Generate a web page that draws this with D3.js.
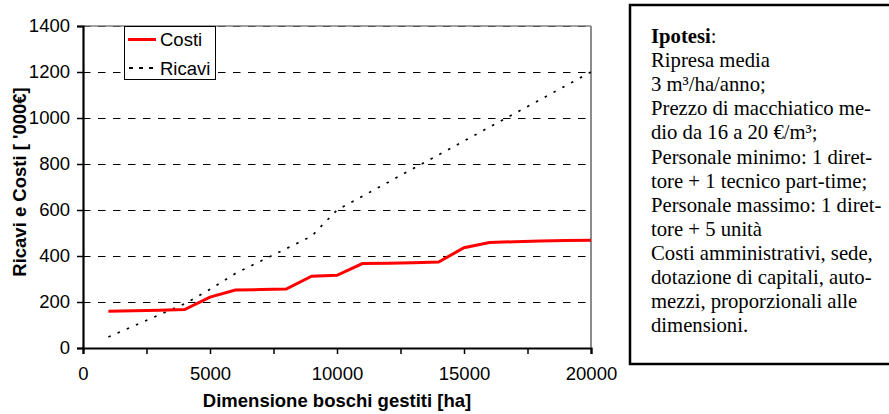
<!DOCTYPE html>
<html><head><meta charset="utf-8">
<script src="https://cdn.jsdelivr.net/npm/d3@7/dist/d3.min.js"></script>
<style>body{margin:0;background:#fff}svg{display:block}</style>
</head><body>
<svg id="c" width="889" height="414"></svg>
<script>
// ---- data ----
const hectares = [1000,2000,3000,4000,5000,6000,7000,8000,9000,10000,11000,12000,13000,14000,15000,16000,17000,18000,19000,20000];
const costi    = [160,162,164,167,221,252,254,256,312,316,367,369,371,374,436,459,462,465,467,469];
const ricavi   = [48,96,144,192,255,324,378,432,486,600,660,720,780,840,900,960,1020,1080,1140,1200];
const yTicks = [0,200,400,600,800,1000,1200,1400];
const xTicksMajor = [0,5000,10000,15000,20000];
const xTicksMinor = [0,2500,5000,7500,10000,12500,15000,17500,20000];
const seriesNames = ["Costi","Ricavi"];
const xTitle = "Dimensione boschi gestiti [ha]";
const yTitle = "Ricavi e Costi [ '000€]";
const noteLines = [
  [{t:"Ipotesi",b:true},{t:":"}],
  [{t:"Ripresa media"}],
  [{t:"3 m³/ha/anno;"}],
  [{t:"Prezzo di macchiatico me-"}],
  [{t:"dio da 16 a 20 €/m³;"}],
  [{t:"Personale minimo: 1 diret-"}],
  [{t:"tore + 1 tecnico part-time;"}],
  [{t:"Personale massimo: 1 diret-"}],
  [{t:"tore + 5 unità"}],
  [{t:"Costi amministrativi, sede,"}],
  [{t:"dotazione di capitali, auto-"}],
  [{t:"mezzi, proporzionali alle"}],
  [{t:"dimensioni."}]
];

const svg = d3.select("#c");
const SANS = "Liberation Sans, Arial, sans-serif";
const x = d3.scaleLinear().domain([0,20000]).range([83,591]);
const y = d3.scaleLinear().domain([0,1400]).range([348,26]);

// plot border (grey) top & right
svg.append("line").attr("x1",x(0)).attr("x2",x(20000)).attr("y1",y(1400)).attr("y2",y(1400))
  .attr("stroke","#a0a0a0").attr("stroke-width",2);
svg.append("line").attr("x1",x(20000)).attr("x2",x(20000)).attr("y1",y(1400)).attr("y2",y(0))
  .attr("stroke","#8c8c8c").attr("stroke-width",2);

// gridlines
svg.append("g").selectAll("line").data(yTicks.filter(d=>d>0)).join("line")
  .attr("x1",x(0)).attr("x2",x(20000)).attr("y1",d=>y(d)+0.5).attr("y2",d=>y(d)+0.5)
  .attr("stroke",d=>d===1400?"#555":"#000").attr("stroke-width",1)
  .attr("stroke-dasharray","7.5,7.5");

// axes
const yAxis = d3.axisLeft(y).tickValues(yTicks).tickSize(6).tickPadding(7).tickFormat(d3.format("d"));
const gy = svg.append("g").attr("transform",`translate(${x(0)},0)`).call(yAxis);
gy.select(".domain").attr("stroke","#000").attr("stroke-width",2.2);
gy.selectAll(".tick line").attr("stroke","#000").attr("stroke-width",1.5);
gy.selectAll("text").attr("font-family",SANS).attr("font-size","18.5px").attr("fill","#000");

const xAxis = d3.axisBottom(x).tickValues(xTicksMinor).tickSize(6).tickFormat(d=>xTicksMajor.includes(d)?d3.format("d")(d):"");
const gx = svg.append("g").attr("transform",`translate(0,${y(0)})`).call(xAxis);
gx.select(".domain").attr("stroke","#000").attr("stroke-width",2.2);
gx.selectAll(".tick line").attr("stroke","#000").attr("stroke-width",1.5);
gx.selectAll("text").attr("font-family",SANS).attr("font-size","18.5px").attr("fill","#000")
  .attr("dy",null).attr("y",32);

// lines
const line = d3.line().x((d,i)=>x(hectares[i])).y(d=>y(d));
svg.append("path").datum(ricavi).attr("d",line).attr("fill","none")
  .attr("stroke","#000").attr("stroke-width",1.7).attr("stroke-dasharray","2.5,7.5");
svg.append("path").datum(costi).attr("d",line).attr("fill","none")
  .attr("stroke","#ff0000").attr("stroke-width",3);

// legend
const lg = svg.append("g");
lg.append("rect").attr("x",124.5).attr("y",26.5).attr("width",91).attr("height",53)
  .attr("fill","#fff").attr("stroke","#000").attr("stroke-width",1);
lg.append("line").attr("x1",128).attr("x2",156).attr("y1",39.5).attr("y2",39.5)
  .attr("stroke","#ff0000").attr("stroke-width",3);
lg.append("line").attr("x1",129).attr("x2",157).attr("y1",68).attr("y2",68)
  .attr("stroke","#000").attr("stroke-width",1.8).attr("stroke-dasharray","4,6");
lg.selectAll("text").data(seriesNames).join("text")
  .attr("x",160).attr("y",(d,i)=>46+i*28.5).text(d=>d)
  .attr("font-family",SANS).attr("font-size","18.5px").attr("fill","#000");

// axis titles
svg.append("text").attr("x",337).attr("y",407).attr("text-anchor","middle")
  .attr("font-family",SANS).attr("font-weight","bold").attr("font-size","18.5px").text(xTitle);
svg.append("text").attr("transform","translate(26,182) rotate(-90)").attr("text-anchor","middle")
  .attr("font-family",SANS).attr("font-weight","bold").attr("font-size","18.5px").text(yTitle);

// note box
svg.append("rect").attr("x",630).attr("y",5).attr("width",290).attr("height",359)
  .attr("fill","#fff").attr("stroke","#000").attr("stroke-width",2.5);
const nt = svg.append("g").attr("font-family","Liberation Serif, Times New Roman, serif")
  .attr("font-size","20.7px").attr("fill","#000");
noteLines.forEach((parts,i)=>{
  const t = nt.append("text").attr("x",651).attr("y",43+i*24.1);
  parts.forEach(p=>t.append("tspan").attr("font-weight",p.b?"bold":null).text(p.t));
});
</script>
</body></html>
